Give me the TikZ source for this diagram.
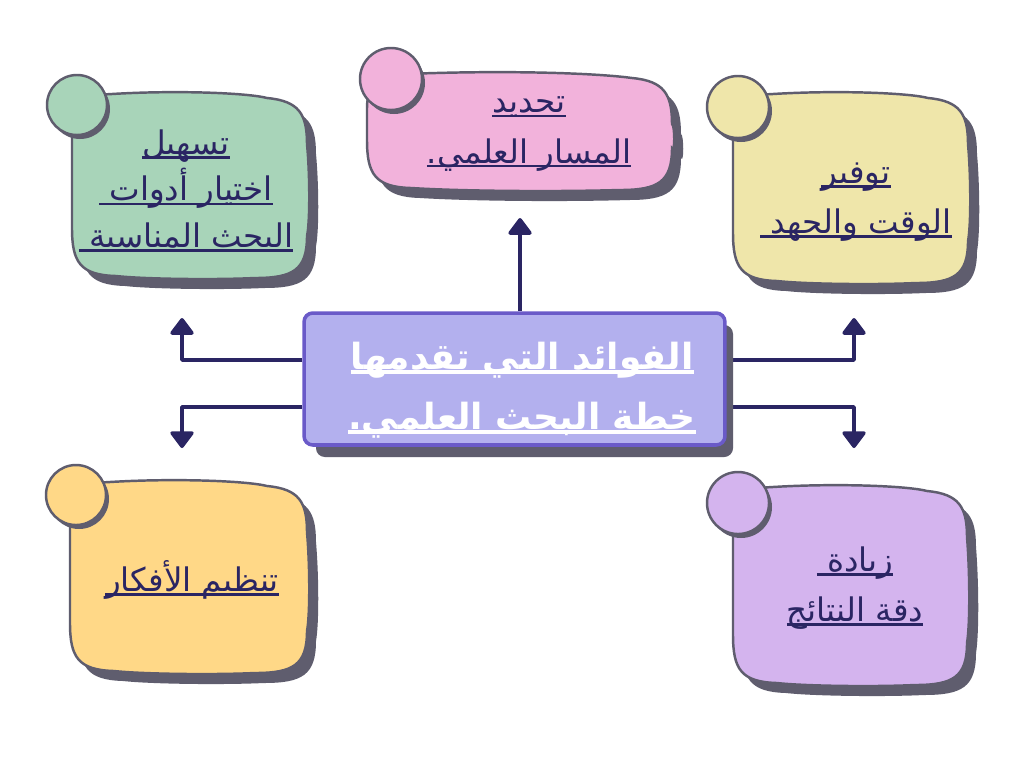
\documentclass[tikz,border=0pt]{standalone}
\usepackage{fontspec}
\usetikzlibrary{arrows.meta, backgrounds}
\TeXXeTstate=1
\newfontfamily\arabicfont[Script=Arabic]{DejaVu Sans}
\definecolor{inkblue}{RGB}{42, 37, 99}
\definecolor{edgegray}{RGB}{95, 93, 110}
\definecolor{coreviolet}{RGB}{179, 176, 238}
\definecolor{coreedge}{RGB}{106, 90, 200}
\definecolor{mintgreen}{RGB}{168, 212, 185}
\definecolor{softpink}{RGB}{242, 178, 219}
\definecolor{paleyellow}{RGB}{239, 230, 170}
\definecolor{sandorange}{RGB}{255, 216, 135}
\definecolor{lilac}{RGB}{212, 180, 238}

% underlined right-to-left line
\newcommand{\undr}[2][1.5pt]{\setbox0=\hbox{\beginR #2\endR}\rlap{\rule[-2.5pt]{\wd0}{#1}}\box0}
% soft hand-drawn box, local coordinates from (0,0) to (w,h)
\newcommand{\blobpath}[2]{(0,36) .. controls (0,12) and (12,3) .. (40,2)
  .. controls ({0.45*#1},-2) and ({0.75*#1},1) .. ({#1-40},6)
  .. controls ({#1-8},9) and ({#1},22) .. ({#1},52)
  .. controls ({#1+3},{0.45*#2}) and ({#1+3},{0.7*#2}) .. ({#1},{#2-42})
  .. controls ({#1},{#2-8}) and ({#1-14},{#2}) .. ({#1-52},{#2})
  .. controls ({0.6*#1},{#2+2}) and ({0.3*#1},{#2+1}) .. (44,{#2-2})
  .. controls (8,{#2-3}) and (0,{#2-16}) .. (0,{#2-50}) -- cycle}
\newcommand{\blob}[8]{% fill, x, y, w, h, circle x, circle y, radius
  \fill[edgegray, shift={({#2+9},{#3+10})}] \blobpath{#4}{#5};
  \filldraw[fill=#1, draw=edgegray, line width=1.4pt, shift={(#2,#3)}] \blobpath{#4}{#5};
  \fill[edgegray] ({#6+3},{#7+4}) circle (#8);
  \filldraw[fill=#1, draw=edgegray, line width=1.4pt] (#6,#7) circle (#8);
}

\begin{document}
\begin{tikzpicture}[x=0.02cm, y=-0.02cm,
    lbl/.style={text=inkblue, align=center, font=\arabicfont\fontsize{18.5}{28.5}\selectfont},
    corebox/.style={draw=coreedge, fill=coreviolet, line width=2pt, rounded corners=5pt,
      minimum width=8.42cm, minimum height=2.64cm, inner sep=0pt},
    coretext/.style={text=white, align=center, font=\arabicfont\bfseries\fontsize{20.5}{34}\selectfont},
    flow/.style={draw=inkblue, line width=2pt, line join=round,
      -{Triangle[width=0.52cm, length=0.36cm, round]}}]
  \useasboundingbox (0,0) rectangle (1024,768);

  \blob{mintgreen}{72}{92}{235}{186}{77}{105}{30}
  \blob{softpink}{367}{72}{305}{118}{391}{79}{31}
  \blob{paleyellow}{733}{92}{235}{191}{738}{107}{31}
  \blob{sandorange}{70}{480}{237}{193}{76}{495}{30}
  \blob{lilac}{733}{485}{234}{200}{738}{503}{31}

  \node[lbl, font=\arabicfont\fontsize{18.5}{26.5}\selectfont] (ease) at (186,191) {\undr{تسهيل}\\\undr{اختيار أدوات }\\\undr{البحث المناسبة }};
  \node[lbl] (path) at (529,134) {\undr{تحديد}\\\undr{المسار العلمي.}};
  \node[lbl] (save) at (856,202) {\undr{توفير}\\\undr{الوقت والجهد }};
  \node[lbl] (order) at (192,580) {\undr{تنظيم الأفكار}};
  \node[lbl] (gain) at (855,588) {\undr{زيادة }\\\undr{دقة النتائج}};

  \node[corebox] (core) at (514.5,379) {};
  \node[coretext] (title) at (522,390) {\undr[2.2pt]{الفوائد التي تقدمها}\\\undr[2.2pt]{خطة البحث العلمي.}};

  \coordinate (tipup) at (520,218);
  \coordinate (tipnw) at (182,318);
  \coordinate (tipsw) at (182,448);
  \coordinate (tipne) at (854,318);
  \coordinate (tipse) at (854,448);

  \begin{scope}[on background layer]
    \fill[white] (0,0) rectangle (1024,768);
    \draw[flow] (core.north -| tipup) -- (tipup);
    \draw[flow] (core.west |- 0,360) -| (tipnw);
    \draw[flow] (core.west |- 0,407) -| (tipsw);
    \draw[flow] (core.east |- 0,360) -| (tipne);
    \draw[flow] (core.east |- 0,407) -| (tipse);
    \fill[edgegray, rounded corners=5pt] (316,325) rectangle (733,457);
  \end{scope}
\end{tikzpicture}
\end{document}
